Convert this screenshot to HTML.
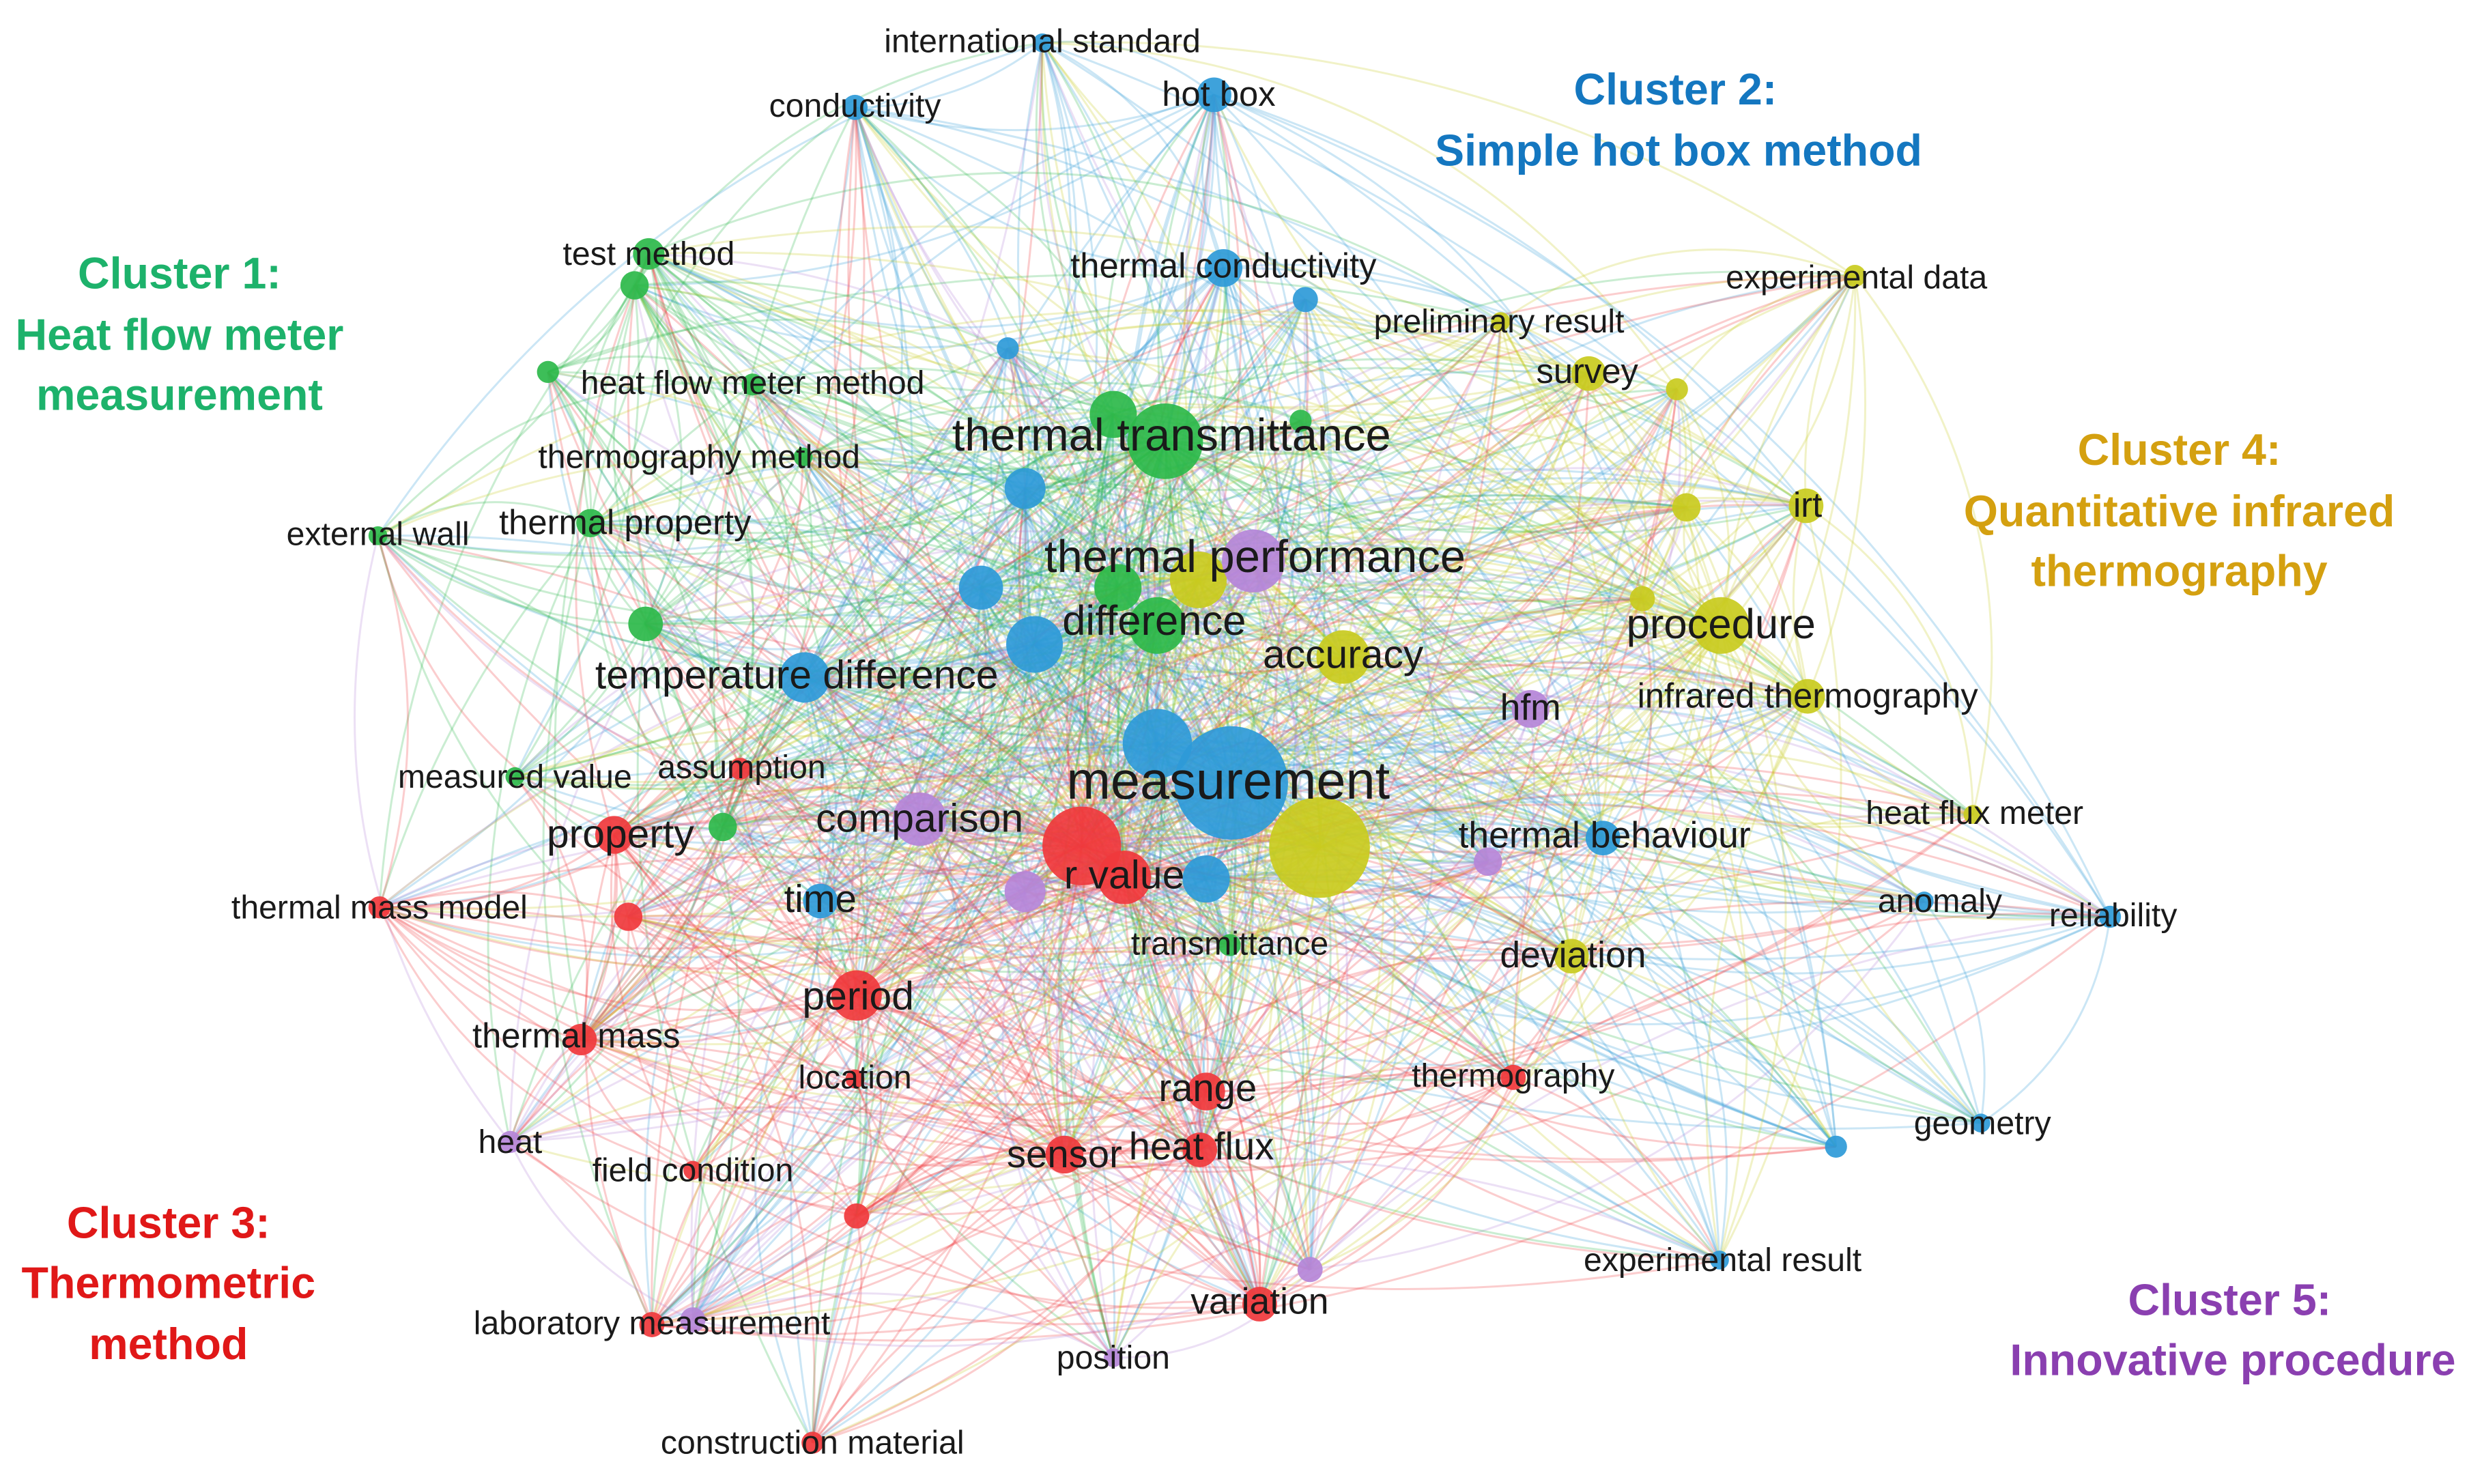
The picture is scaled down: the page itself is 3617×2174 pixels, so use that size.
<!DOCTYPE html>
<html><head><meta charset="utf-8"><style>
html,body{margin:0;padding:0;background:#fff}
svg{display:block}
text{font-family:"Liberation Sans",sans-serif;fill:#1a1a1a}
.t{font-weight:bold;text-anchor:middle;font-size:28px}
</style></head><body>
<svg id="s" width="3617" height="2174" viewBox="0 0 1568 942" xmlns="http://www.w3.org/2000/svg">
<g id="edges"></g>
<g id="nodes"></g>
<g id="labels" text-anchor="middle">
<text x="662" y="33" font-size="18">international standard</text>
<text x="543" y="74" font-size="18">conductivity</text>
<text x="774" y="67" font-size="19">hot box</text>
<text x="777" y="176" font-size="19">thermal conductivity</text>
<text x="412" y="168" font-size="18">test method</text>
<text x="478" y="250" font-size="18">heat flow meter method</text>
<text x="444" y="297" font-size="18">thermography method</text>
<text x="397" y="339" font-size="19">thermal property</text>
<text x="240" y="346" font-size="18">external wall</text>
<text x="744" y="286" font-size="25">thermal transmittance</text>
<text x="797" y="363" font-size="25">thermal performance</text>
<text x="733" y="403" font-size="23">difference</text>
<text x="506" y="437" font-size="22">temperature difference</text>
<text x="853" y="424" font-size="22">accuracy</text>
<text x="952" y="211" font-size="18">preliminary result</text>
<text x="1179" y="183" font-size="18">experimental data</text>
<text x="1008" y="243" font-size="19">survey</text>
<text x="1148" y="328" font-size="19">irt</text>
<text x="1093" y="405" font-size="23">procedure</text>
<text x="1148" y="449" font-size="19">infrared thermography</text>
<text x="972" y="457" font-size="20">hfm</text>
<text x="780" y="507" font-size="29">measurement</text>
<text x="327" y="500" font-size="18">measured value</text>
<text x="471" y="494" font-size="18">assumption</text>
<text x="394" y="538" font-size="22">property</text>
<text x="584" y="528" font-size="22">comparison</text>
<text x="714" y="564" font-size="22">r value</text>
<text x="521" y="579" font-size="21">time</text>
<text x="241" y="583" font-size="18">thermal mass model</text>
<text x="1019" y="538" font-size="20">thermal behaviour</text>
<text x="1254" y="523" font-size="18">heat flux meter</text>
<text x="1232" y="579" font-size="18">anomaly</text>
<text x="1342" y="588" font-size="18">reliability</text>
<text x="781" y="606" font-size="18">transmittance</text>
<text x="545" y="641" font-size="22">period</text>
<text x="999" y="614" font-size="20">deviation</text>
<text x="366" y="665" font-size="19">thermal mass</text>
<text x="543" y="691" font-size="18">location</text>
<text x="767" y="699" font-size="21">range</text>
<text x="961" y="690" font-size="18">thermography</text>
<text x="1259" y="720" font-size="18">geometry</text>
<text x="324" y="732" font-size="18">heat</text>
<text x="440" y="750" font-size="18">field condition</text>
<text x="676" y="741" font-size="21">sensor</text>
<text x="763" y="736" font-size="21">heat flux</text>
<text x="1094" y="807" font-size="18">experimental result</text>
<text x="800" y="834" font-size="20">variation</text>
<text x="414" y="847" font-size="18">laboratory measurement</text>
<text x="707" y="869" font-size="18">position</text>
<text x="516" y="923" font-size="18">construction material</text>
</g>
<text class="t" x="114" y="183" style="fill:#1db26b">Cluster 1:</text>
<text class="t" x="114" y="222" style="fill:#1db26b">Heat flow meter</text>
<text class="t" x="114" y="260" style="fill:#1db26b">measurement</text>
<text class="t" x="1064" y="66" style="fill:#1477c0">Cluster 2:</text>
<text class="t" x="1066" y="105" style="fill:#1477c0">Simple hot box method</text>
<text class="t" x="1384" y="295" style="fill:#d4a010">Cluster 4:</text>
<text class="t" x="1384" y="334" style="fill:#d4a010">Quantitative infrared</text>
<text class="t" x="1384" y="372" style="fill:#d4a010">thermography</text>
<text class="t" x="107" y="786" style="fill:#e01818">Cluster 3:</text>
<text class="t" x="107" y="824" style="fill:#e01818">Thermometric</text>
<text class="t" x="107" y="863" style="fill:#e01818">method</text>
<text class="t" x="1416" y="835" style="fill:#8a3fb0">Cluster 5:</text>
<text class="t" x="1418" y="873" style="fill:#8a3fb0">Innovative procedure</text>
</svg>
<script>
var C={g:"#2db84a",b:"#2e9ad8",r:"#f0383c",y:"#c9cb1e",p:"#b585d8"};
var N=[
[662,27,6,"b"],[543,68,8,"b"],[771,60,11,"b"],[777,170,12,"b"],[829,190,8,"b"],[640,221,7,"b"],[651,310,13,"b"],[623,373,14,"b"],[657,409,18,"b"],[511,430,16,"b"],[735,472,22,"b"],[782,497,36,"b"],[766,558,15,"b"],[521,572,11,"b"],[1018,532,11,"b"],[1222,572,6,"b"],[1340,582,7,"b"],[1258,713,6,"b"],[1166,728,7,"b"],[1092,800,6,"b"],
[412,161,10,"g"],[403,181,9,"g"],[348,236,7,"g"],[478,244,7,"g"],[510,290,6,"g"],[375,332,9,"g"],[240,340,6,"g"],[410,396,11,"g"],[327,493,6,"g"],[459,525,9,"g"],[707,263,15,"g"],[740,280,24,"g"],[826,267,7,"g"],[710,373,15,"g"],[735,397,18,"g"],[781,600,7,"g"],
[470,488,7,"r"],[390,530,12,"r"],[241,576,7,"r"],[399,582,9,"r"],[687,537,25,"r"],[714,557,17,"r"],[544,632,16,"r"],[369,660,10,"r"],[543,685,6,"r"],[766,693,12,"r"],[676,733,12,"r"],[762,730,11,"r"],[440,743,6,"r"],[544,772,8,"r"],[961,684,8,"r"],[414,841,8,"r"],[800,828,11,"r"],[516,916,7,"r"],
[1178,175,7,"y"],[953,204,6,"y"],[1009,237,11,"y"],[1065,247,7,"y"],[1071,322,9,"y"],[1147,321,11,"y"],[1043,380,8,"y"],[1093,397,18,"y"],[761,368,18,"y"],[853,417,17,"y"],[1148,442,11,"y"],[1253,517,6,"y"],[838,538,32,"y"],[998,607,11,"y"],
[796,356,20,"p"],[972,450,12,"p"],[584,520,17,"p"],[651,566,13,"p"],[945,547,9,"p"],[324,725,7,"p"],[440,838,8,"p"],[707,862,6,"p"],[832,806,8,"p"]];
var seed=7;function rnd(){seed=(seed*16807)%2147483647;return seed/2147483647;}
var E=document.getElementById("edges"),Nd=document.getElementById("nodes");
var h="";
for(var i=0;i<N.length;i++){for(var j=i+1;j<N.length;j++){
 var a=N[i],b=N[j];var same=a[3]==b[3];
 var p=(a[2]*b[2])/(same?110:300);
 if(rnd()<Math.min(p,0.9)){
  var c=(a[2]>=b[2])?a:b; if(same)c=a;
  var mx=(a[0]+b[0])/2,my=(a[1]+b[1])/2,dx=b[0]-a[0],dy=b[1]-a[1];
  var k=0.22*(rnd()<0.5?1:-1)*(0.6+rnd()*0.6);mx+=-dy*k;my+=dx*k;
  h+='<path d="M'+a[0]+' '+a[1]+'Q'+mx.toFixed(1)+' '+my.toFixed(1)+' '+b[0]+' '+b[1]+'" stroke="'+C[c[3]]+'" stroke-opacity="0.25" stroke-width="1.3" fill="none"/>';
 }}}
E.innerHTML=h;
var hn="";
N.slice().sort(function(a,b){return a[2]-b[2]}).forEach(function(n){hn+='<circle cx="'+n[0]+'" cy="'+n[1]+'" r="'+n[2]+'" fill="'+C[n[3]]+'" fill-opacity="0.92"/>';});
Nd.innerHTML=hn;
var ts=document.querySelectorAll("#labels text");
for(var q=0;q<ts.length;q++){var f=parseFloat(ts[q].getAttribute("font-size"));ts[q].setAttribute("font-size",(f*1.16).toFixed(1));}
</script>
</body></html>
